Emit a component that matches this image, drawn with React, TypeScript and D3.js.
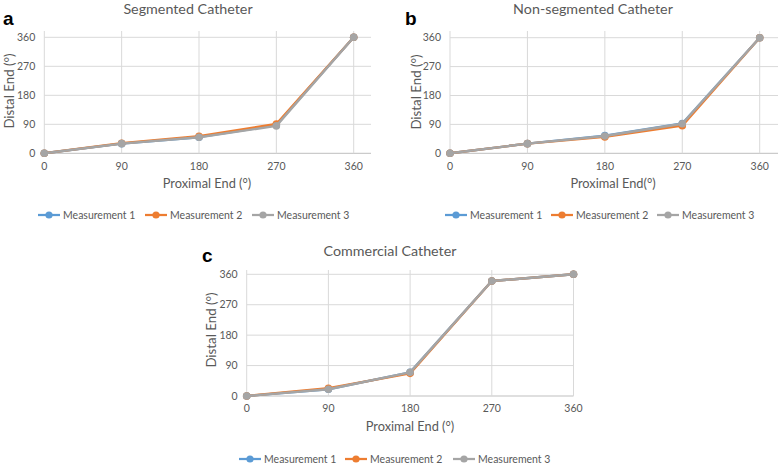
import React from "react";
import * as d3 from "d3";

const xCategories = [0, 90, 180, 270, 360];
const yTicks = [0, 90, 180, 270, 360];
const seriesNames = ["Measurement 1", "Measurement 2", "Measurement 3"];
const seriesNamesC = ["Measurement 1", "Measurement 2", "Measurement  3"];

const segM1 = [0, 30, 50, 88, 360];
const segM2 = [0, 31, 53, 91, 360];
const segM3 = [0, 30, 50, 85, 360];

const nonM1 = [0, 30, 55, 93, 360];
const nonM2 = [0, 30, 51, 86, 360];
const nonM3 = [0, 30, 54, 92, 360];

const comM1 = [0, 20, 70, 340, 360];
const comM2 = [0, 23, 67, 340, 360];
const comM3 = [0, 20, 70, 340, 360];

const COLORS = ["#5B9BD5", "#ED7D31", "#A5A5A5"];
const TEXT = "#595959";
const GRID = "#D9D9D9";
const FONT = "Lato, 'Open Sans', sans-serif";

type PanelProps = {
  letter: string;
  title: string;
  xTitle: string;
  names: string[];
  series: number[][];
  x0: number; x1: number; right: number;
  y0: number; y1: number; top: number;
  letterX: number; letterY: number;
  titleX: number; titleY: number;
  yTitleX: number; yTitleY: number;
  xTitleX: number; xTitleY: number;
  tickY: number;
  legendY: number;
  legendX: number[];
};

function Panel(p: PanelProps) {
  const x = d3.scaleLinear().domain([0, 360]).range([p.x0, p.x1]);
  const y = d3.scaleLinear().domain([0, 360]).range([p.y0, p.y1]);
  const line = d3.line<number>().x((_, i) => x(xCategories[i])).y((d) => y(d));
  return (
    <g>
      {yTicks.map((t) => (
        <line key={"h" + t} x1={p.x0} x2={p.right} y1={y(t)} y2={y(t)} stroke={t === 0 ? "#BFBFBF" : GRID} strokeWidth={1} />
      ))}
      {xCategories.map((c) => (
        <line key={"v" + c} x1={x(c)} x2={x(c)} y1={p.top} y2={p.y0} stroke={GRID} strokeWidth={1} />
      ))}
      {yTicks.map((t) => (
        <text key={"yt" + t} x={p.x0 - 9} y={y(t)} dy="0.35em" textAnchor="end" fontSize={10.5} fill={TEXT} fontFamily={FONT}>{t}</text>
      ))}
      {xCategories.map((c) => (
        <text key={"xt" + c} x={x(c)} y={p.tickY} textAnchor="middle" fontSize={10.5} fill={TEXT} fontFamily={FONT}>{c}</text>
      ))}
      {p.series.map((s, i) => (
        <g key={"s" + i}>
          <path d={line(s) || ""} fill="none" stroke={COLORS[i]} strokeWidth={2.4} strokeLinejoin="round" />
          {s.map((v, j) => (
            <circle key={j} cx={x(xCategories[j])} cy={y(v)} r={3.8} fill={COLORS[i]} />
          ))}
        </g>
      ))}
      <text x={p.titleX} y={p.titleY} textAnchor="middle" fontSize={14.3} fill={TEXT} fontFamily={FONT}>{p.title}</text>
      <text x={p.letterX} y={p.letterY} fontSize={19} fontWeight="bold" fill="#000" fontFamily="'Liberation Sans', Arial, sans-serif">{p.letter}</text>
      <text transform={`translate(${p.yTitleX},${p.yTitleY}) rotate(-90)`} textAnchor="middle" dy="0.35em" fontSize={13.3} fill={TEXT} fontFamily={FONT}>Distal End (°)</text>
      <text x={p.xTitleX} y={p.xTitleY} textAnchor="middle" fontSize={12.8} fill={TEXT} fontFamily={FONT}>{p.xTitle}</text>
      {p.names.map((n, i) => (
        <g key={"l" + i} transform={`translate(${p.legendX[i]},${p.legendY})`}>
          <line x1={0} x2={22} y1={0} y2={0} stroke={COLORS[i]} strokeWidth={2.25} />
          <circle cx={11} cy={0} r={3.6} fill={COLORS[i]} />
          <text x={25} y={0} dy="0.35em" fontSize={10.5} fill={TEXT} fontFamily={FONT}>{n}</text>
        </g>
      ))}
    </g>
  );
}

export default function App() {
  return (
    <svg width={778} height={465} style={{ position: "absolute", left: 0, top: 0, background: "#fff" }}>
      <rect width={778} height={465} fill="#fff" />
      <Panel
        letter="a" title="Segmented Catheter" xTitle="Proximal End (°)" names={seriesNames}
        series={[segM1, segM2, segM3]}
        x0={44.3} x1={353.7} right={371} y0={153.3} y1={37.3} top={31}
        letterX={3} letterY={25} titleX={188} titleY={14}
        yTitleX={9} yTitleY={91} xTitleX={207} xTitleY={188} tickY={170}
        legendY={215} legendX={[38, 145, 252]}
      />
      <Panel
        letter="b" title="Non-segmented Catheter" xTitle="Proximal End(°)" names={seriesNames}
        series={[nonM1, nonM2, nonM3]}
        x0={450} x1={759.7} right={778} y0={153.3} y1={37.7} top={31}
        letterX={405} letterY={25} titleX={593} titleY={14}
        yTitleX={416} yTitleY={92} xTitleX={613} xTitleY={188} tickY={170}
        legendY={215} legendX={[445, 551, 657]}
      />
      <Panel
        letter="c" title="Commercial Catheter" xTitle="Proximal End (°)" names={seriesNamesC}
        series={[comM1, comM2, comM3]}
        x0={246.7} x1={573.5} right={573.5} y0={396} y1={274.3} top={270}
        letterX={202} letterY={262} titleX={390} titleY={256}
        yTitleX={211} yTitleY={330} xTitleX={410} xTitleY={431} tickY={412}
        legendY={459} legendX={[239, 345, 453]}
      />
    </svg>
  );
}
